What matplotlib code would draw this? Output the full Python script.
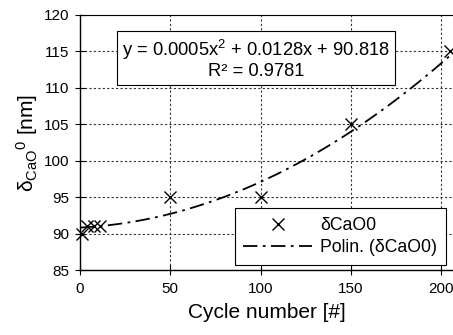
import numpy as np
import matplotlib
matplotlib.use("Agg")
import matplotlib.pyplot as plt

# ── Data ─────────────────────────────────────
cycles = [1, 4, 8, 11, 50, 100, 150, 205]
delta_cao = [90, 91, 91, 91, 95, 95, 105, 115]
trend_coef = [0.0005, 0.0128, 90.818]   # Excel polynomial trendline
r_squared = 0.9781
x_ticks = [0, 50, 100, 150, 200]
y_ticks = [85, 90, 95, 100, 105, 110, 115, 120]

plt.rcParams["font.family"] = ["Liberation Sans", "DejaVu Sans"]
plt.rcParams["mathtext.fontset"] = "custom"
plt.rcParams["mathtext.rm"] = "Liberation Sans"
plt.rcParams["mathtext.it"] = "Liberation Sans:italic"

fig = plt.figure(figsize=(4.53, 3.35), dpi=100)
ax = fig.add_axes([80 / 453, 1 - 270 / 335, 373 / 453, 255 / 335])

# trendline
xs = np.linspace(0, 207, 200)
ys = np.polyval(trend_coef, xs)
ax.plot(xs, ys, color="black", lw=1.3, dashes=(8, 3, 1.5, 3),
        label="Polin. (δCaO0)", zorder=3)
ax.plot(cycles, delta_cao, ls="none", marker="x", ms=9, mew=1.0,
        color="black", label="δCaO0", zorder=4, clip_on=False)

ax.set_xlim(0, 206.5)
ax.set_ylim(85, 120)
ax.set_xticks(x_ticks)
ax.set_yticks(y_ticks)
ax.tick_params(axis="x", direction="inout", length=7, width=0.8,
               labelsize=11, pad=5)
ax.tick_params(axis="y", direction="inout", length=7, width=0.8,
               labelsize=11, pad=4)

ax.grid(True, color="#333333", lw=0.8, ls=(0, (2, 2)))
ax.set_axisbelow(True)
ax.spines["right"].set_visible(False)
ax.spines["top"].set_linewidth(0.8)
ax.spines["left"].set_linewidth(1.0)
ax.spines["bottom"].set_linewidth(1.0)

ax.set_xlabel("Cycle number [#]", fontsize=15, labelpad=5)
ax.set_ylabel(r"$\mathregular{{\delta_{CaO}}^{0}}$ [nm]", fontsize=15, labelpad=3)

# equation box
eq = (r"y = 0.0005x$\mathregular{^{2}}$ + 0.0128x + 90.818" + "\n"
      + f"R² = {r_squared}")
fig.text(256 / 453, 1 - 59 / 335, eq, fontsize=13.2, ha="center", va="center",
         multialignment="center", linespacing=1.05,
         bbox=dict(boxstyle="square,pad=0.3", fc="white", ec="black", lw=0.8))

handles, labels = ax.get_legend_handles_labels()
leg = ax.legend(handles[::-1], labels[::-1], loc="lower right",
                bbox_to_anchor=(1 - 7 / 373, 5 / 255), fontsize=12.7,
                frameon=True, fancybox=False, edgecolor="black", framealpha=1,
                handlelength=3.9, borderpad=0.5, labelspacing=0.3,
                handletextpad=0.45, borderaxespad=0)
leg.get_frame().set_linewidth(0.8)

fig.savefig("out.png", dpi=100)
